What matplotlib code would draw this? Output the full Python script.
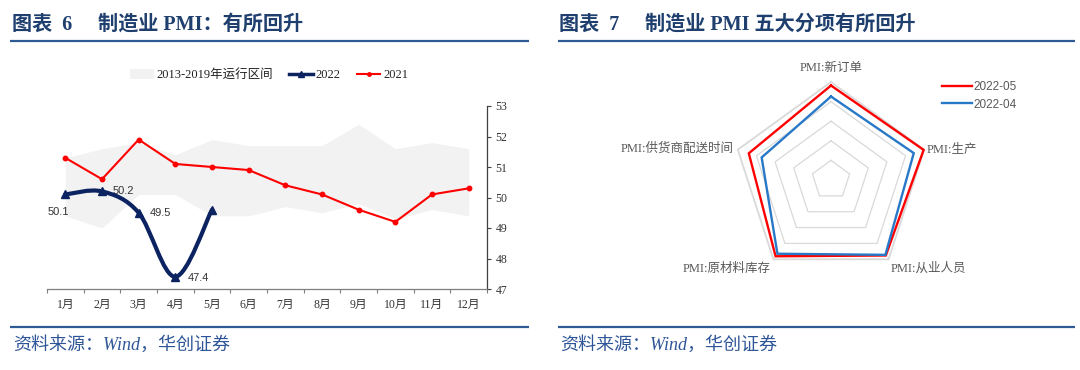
import numpy as np
import matplotlib
matplotlib.use('Agg')
import matplotlib.pyplot as plt
from matplotlib.path import Path
from matplotlib.patches import PathPatch, Patch
from matplotlib.lines import Line2D

# ---------------- data ----------------
months = ['1月', '2月', '3月', '4月', '5月', '6月', '7月', '8月', '9月', '10月', '11月', '12月']
band_low = [49.4, 49.0, 50.1, 50.1, 49.4, 49.4, 49.7, 49.5, 49.8, 49.3, 49.6, 49.4]
band_high = [51.3, 51.6, 51.8, 51.4, 51.9, 51.7, 51.7, 51.7, 52.4, 51.6, 51.8, 51.6]
pmi_2022 = [50.1, 50.2, 49.5, 47.4, 49.6]
pmi_2021 = [51.3, 50.6, 51.9, 51.1, 51.0, 50.9, 50.4, 50.1, 49.6, 49.2, 50.1, 50.3]
labels_2022 = ['50.1', '50.2', '49.5', '47.4']
y_ticks = [47, 48, 49, 50, 51, 52, 53]

radar_labels = ['PMI:新订单', 'PMI:生产', 'PMI:从业人员', 'PMI:原材料库存', 'PMI:供货商配送时间']
radar_may = [48.2, 49.7, 47.6, 48.1, 44.1]
radar_apr = [42.6, 44.4, 47.2, 46.5, 37.2]
radar_rings = [10, 20, 30, 40, 50]
radar_series_names = ['2022-05', '2022-04']

# ---------------- style ----------------
W, H = 1080, 370
SERIF = ['Liberation Serif', 'Noto Sans CJK SC']
SANS = ['Liberation Sans', 'Noto Sans CJK SC']
TITLE_C = '#1F3F6E'
LINE_C = '#2E5A96'
SRC_C = '#2E5597'
NAVY = '#0B2361'
RED = '#FF0000'
BLUE = '#2878C8'
GRAY_TXT = '#595959'

plt.rcParams['font.family'] = SERIF

fig = plt.figure(figsize=(W / 100, H / 100), dpi=100)


def fx(px):
    return px / W


def fy(py):
    return 1 - py / H


def hline(x0, x1, y, color, lw):
    fig.add_artist(Line2D([fx(x0), fx(x1)], [fy(y), fy(y)], transform=fig.transFigure,
                          color=color, lw=lw, solid_capstyle='butt'))


# ---------------- titles, rules, sources ----------------
for x_a, x_b, t_a, t_b in [(12, 98, '图表  6', '制造业 PMI：有所回升'),
                           (559, 645, '图表  7', '制造业 PMI 五大分项有所回升')]:
    fig.text(fx(x_a), fy(25), t_a, ha='left', va='center', fontsize=14.5,
             fontweight='bold', color=TITLE_C, family=SERIF)
    fig.text(fx(x_b), fy(25), t_b, ha='left', va='center', fontsize=14.5,
             fontweight='bold', color=TITLE_C, family=SERIF)

hline(10, 529, 41, LINE_C, 1.6)
hline(558, 1075, 41, LINE_C, 1.6)
hline(10, 529, 327, LINE_C, 1.6)
hline(558, 1075, 327, LINE_C, 1.6)
fig.text(fx(13), fy(345), '资料来源：Wind，华创证券', ha='left', va='center', fontsize=13,
         style='italic', color=SRC_C, family=SERIF)
fig.text(fx(560), fy(345), '资料来源：Wind，华创证券', ha='left', va='center', fontsize=13,
         style='italic', color=SRC_C, family=SERIF)

# ---------------- left chart ----------------
ax = fig.add_axes([fx(47), fy(289), (487 - 47) / W, (289 - 106) / H])
xc = np.arange(len(months)) + 0.5
ax.fill_between(xc, band_low, band_high, color='#F2F2F2', lw=0, zorder=1)
ax.plot(xc, pmi_2021, color=RED, lw=1.5, marker='o', ms=3.2, zorder=3)


def smooth_path(xs, ys):
    n = len(xs)
    verts = [(xs[0], ys[0])]
    codes = [Path.MOVETO]
    for i in range(n - 1):
        xp, yp = (xs[i - 1], ys[i - 1]) if i > 0 else (xs[i], ys[i])
        xn, yn = (xs[i + 2], ys[i + 2]) if i + 2 < n else (xs[i + 1], ys[i + 1])
        c1 = (xs[i] + (xs[i + 1] - xp) / 6, ys[i] + (ys[i + 1] - yp) / 6)
        c2 = (xs[i + 1] - (xn - xs[i]) / 6, ys[i + 1] - (yn - ys[i]) / 6)
        verts += [c1, c2, (xs[i + 1], ys[i + 1])]
        codes += [Path.CURVE4] * 3
    return Path(verts, codes)


x22 = xc[:len(pmi_2022)]
ax.add_patch(PathPatch(smooth_path(list(x22), pmi_2022), facecolor='none',
                       edgecolor=NAVY, lw=3, zorder=4, capstyle='round'))
ax.plot(x22, pmi_2022, ls='none', marker='^', ms=5.5, color=NAVY, zorder=5)

# data labels
offsets = [(-7, -18), (11, 0), (11, 0), (12, -1)]
for i, (lab, (dx, dy)) in enumerate(zip(labels_2022, offsets)):
    if i == 0:
        ax.annotate(lab, (x22[i], pmi_2022[i]), xytext=(dx, dy), textcoords='offset pixels',
                    ha='center', va='center', fontsize=8, color='#333333', family=SANS,
                    arrowprops=dict(arrowstyle='-', color='#333333', lw=0.8,
                                    shrinkA=6, shrinkB=1))
    else:
        ax.annotate(lab, (x22[i], pmi_2022[i]), xytext=(dx, dy), textcoords='offset pixels',
                    ha='left', va='center', fontsize=8, color='#333333', family=SANS)

ax.set_xlim(0, len(months))
ax.set_ylim(y_ticks[0], y_ticks[-1])
for s in ['left', 'top']:
    ax.spines[s].set_visible(False)
ax.spines['bottom'].set_color('#7F7F7F')
ax.spines['bottom'].set_linewidth(0.9)
ax.spines['right'].set_color('#404040')
ax.spines['right'].set_linewidth(0.9)
ax.yaxis.tick_right()
ax.set_yticks(y_ticks)
ax.tick_params(axis='y', direction='out', length=3, width=0.8, color='#404040',
               labelsize=8.5, labelcolor='#333333', pad=3)
ax.set_xticks(np.arange(len(months) + 1))
ax.set_xticklabels([])
ax.set_xticks(xc, minor=True)
ax.set_xticklabels(months, minor=True)
ax.tick_params(axis='x', which='major', direction='out', length=3, width=0.8, color='#7F7F7F')
ax.tick_params(axis='x', which='minor', length=0, pad=7, labelsize=8.5, labelcolor='#333333')
for t in ax.get_xticklabels(minor=True) + ax.get_yticklabels():
    t.set_family(SERIF)

handles = [Patch(facecolor='#F2F2F2', edgecolor='none'),
           Line2D([], [], color=NAVY, lw=2.5, marker='^', ms=4.5),
           Line2D([], [], color=RED, lw=1.5, marker='o', ms=2.5)]
fig.legend(handles, ['2013-2019年运行区间', '2022', '2021'], loc='center',
           bbox_to_anchor=(fx(269), fy(75)), ncol=3, frameon=False,
           prop={'family': SERIF, 'size': 9}, handlelength=1.9, handleheight=0.9,
           handletextpad=0.2, columnspacing=1.3, labelcolor='#222222')

# ---------------- radar chart ----------------
PX_PER_UNIT = 1.96
half_w, half_h = 130, 110
rax = fig.add_axes([fx(831 - half_w), fy(180 + half_h), 2 * half_w / W, 2 * half_h / H])
rax.set_xlim(-half_w / PX_PER_UNIT, half_w / PX_PER_UNIT)
rax.set_ylim(-half_h / PX_PER_UNIT, half_h / PX_PER_UNIT)
rax.axis('off')

n = len(radar_labels)
ang = np.pi / 2 - np.arange(n) * 2 * np.pi / n
ang_c = np.append(ang, ang[0])


def polar_xy(vals):
    v = np.append(vals, vals[0])
    return v * np.cos(ang_c), v * np.sin(ang_c)


for k, r in enumerate(radar_rings):
    xs, ys = polar_xy(np.full(n, r))
    rax.plot(xs, ys, color='#D9D9D9', lw=1.3 if k == len(radar_rings) - 1 else 0.9, zorder=1)

for vals, col in [(radar_may, RED), (radar_apr, BLUE)]:
    xs, ys = polar_xy(np.array(vals))
    rax.plot(xs, ys, color=col, lw=1.7, zorder=3, solid_joinstyle='miter')

label_r = [54, 51.5, 52, 52, 52]
aligns = [('center', 'bottom'), ('left', 'center'), ('left', 'top'),
          ('right', 'top'), ('right', 'center')]
for lab, a, rr, (ha, va) in zip(radar_labels, ang, label_r, aligns):
    rax.text(rr * np.cos(a), rr * np.sin(a), lab, ha=ha, va=va, fontsize=9,
             color=GRAY_TXT, family=SERIF)

rh = [Line2D([], [], color=RED, lw=1.7), Line2D([], [], color=BLUE, lw=1.7)]
fig.legend(rh, radar_series_names, loc='upper left', bbox_to_anchor=(fx(934), fy(73)),
           frameon=False, prop={'family': SANS, 'size': 8.5}, handlelength=2.5,
           handletextpad=0.15, labelspacing=0.45, labelcolor=GRAY_TXT, borderpad=0.2)

fig.savefig('out.png', dpi=100, facecolor='white')
